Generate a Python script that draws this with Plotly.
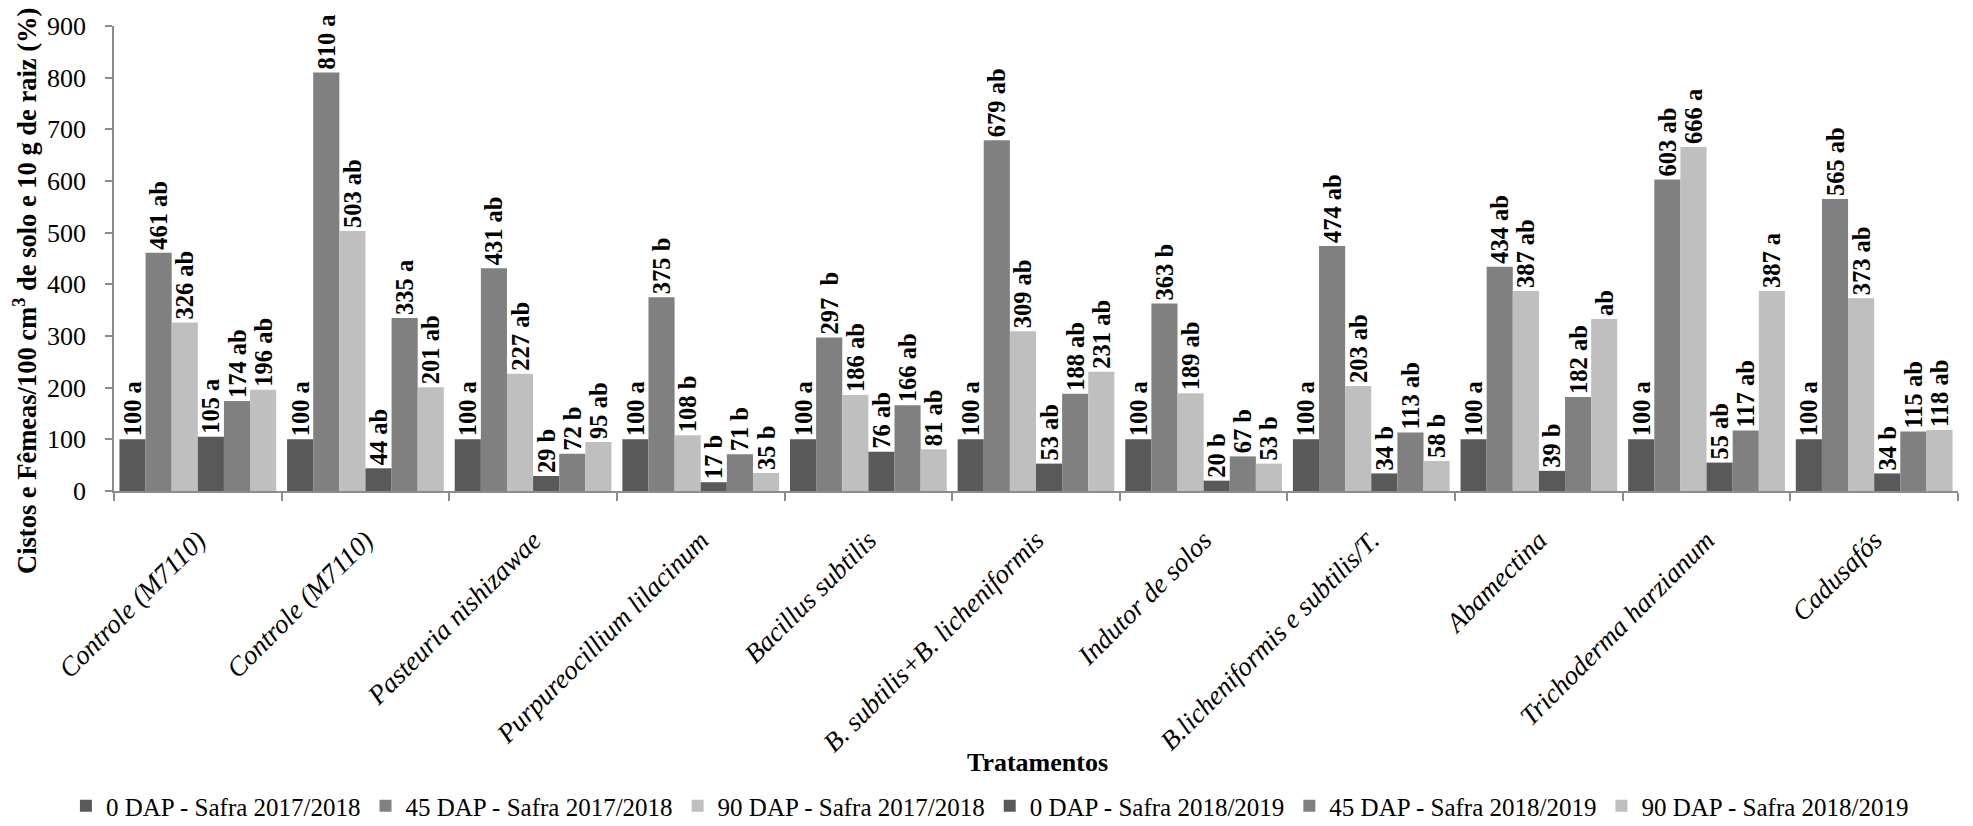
import plotly.graph_objects as go

# Treatments (two control rows share the same name, so bars sit on numeric slots)
treatments = [
    "Controle (M7110)",
    "Controle (M7110)",
    "Pasteuria nishizawae",
    "Purpureocillium lilacinum",
    "Bacillus subtilis",
    "B. subtilis+B. licheniformis",
    "Indutor de solos",
    "B.licheniformis e subtilis/T.",
    "Abamectina",
    "Trichoderma harzianum",
    "Cadusafós",
]

series_names = [
    "0 DAP - Safra 2017/2018",
    "45 DAP - Safra 2017/2018",
    "90 DAP - Safra 2017/2018",
    "0 DAP - Safra 2018/2019",
    "45 DAP - Safra 2018/2019",
    "90 DAP - Safra 2018/2019",
]

dap0_1718 = [100, 100, 100, 100, 100, 100, 100, 100, 100, 100, 100]
dap45_1718 = [461, 810, 431, 375, 297, 679, 363, 474, 434, 603, 565]
dap90_1718 = [326, 503, 227, 108, 186, 309, 189, 203, 387, 666, 373]
dap0_1819 = [105, 44, 29, 17, 76, 53, 20, 34, 39, 55, 34]
dap45_1819 = [174, 335, 72, 71, 166, 188, 67, 113, 182, 117, 115]
dap90_1819 = [196, 201, 95, 35, 81, 231, 53, 58, 333, 387, 118]

# Tukey letters for each bar
let0_1718 = ["a"] * 11
let45_1718 = ["ab", "a", "ab", "b", " b", "ab", "b", "ab", "ab", "ab", "ab"]
let90_1718 = ["ab", "ab", "ab", "b", "ab", "ab", "ab", "ab", "ab", "a", "ab"]
let0_1819 = ["a", "ab", "b", "b", "ab", "ab", "b", "b", "b", "ab", "b"]
let45_1819 = ["ab", "a", "b", "b", "ab", "ab", "b", "ab", "ab", "ab", "ab"]
let90_1819 = ["ab", "ab", "ab", "b", "ab", "ab", "b", "b", "ab", "a", "ab"]

# Bars whose label carries only the letter (no number printed)
letter_only = {5: [8]}

values = [dap0_1718, dap45_1718, dap90_1718, dap0_1819, dap45_1819, dap90_1819]
letters = [let0_1718, let45_1718, let90_1718, let0_1819, let45_1819, let90_1819]
colors = ["#595959", "#808080", "#bfbfbf", "#595959", "#808080", "#bfbfbf"]

FONT = "Liberation Serif"
W, H = 1973, 826
ML, MR, MT, MB = 114, 15, 26, 335
PW, PH = W - ML - MR, H - MT - MB


def py(pixel_y):
    """Paper y coordinate for a pixel row of the page."""
    return (MT + PH - pixel_y) / PH


def px(pixel_x):
    """Paper x coordinate for a pixel column of the page."""
    return (pixel_x - ML) / PW


x_pos = list(range(len(treatments)))

fig = go.Figure()
for s, (name, vals, lets, col) in enumerate(zip(series_names, values, letters, colors)):
    skip = letter_only.get(s, [])
    labels = [
        (l.strip() if i in skip else f"{v} {l}")
        for i, (v, l) in enumerate(zip(vals, lets))
    ]
    fig.add_trace(go.Bar(
        name=name,
        x=x_pos,
        y=vals,
        marker=dict(color=col, line=dict(width=0)),
        text=labels,
        textposition="outside",
        textangle=-90,
        constraintext="none",
        cliponaxis=False,
        textfont=dict(family=FONT, size=24.5, color="black", weight="bold"),
        hoverinfo="skip",
    ))

axis_gray = "#8c8c8c"

fig.update_layout(
    width=W,
    height=H,
    margin=dict(l=ML, r=MR, t=MT, b=MB, pad=0, autoexpand=False),
    paper_bgcolor="white",
    plot_bgcolor="white",
    barmode="group",
    bargap=0.065,
    bargroupgap=0,
    font=dict(family=FONT, color="black"),
    showlegend=True,
    legend=dict(
        orientation="h",
        x=0.475,
        xanchor="center",
        y=py(806),
        yanchor="middle",
        font=dict(family=FONT, size=25, color="black"),
        itemwidth=30,
        traceorder="normal",
        bgcolor="rgba(0,0,0,0)",
    ),
    xaxis=dict(
        range=[-0.5, len(treatments) - 0.5],
        tickmode="array",
        tickvals=x_pos,
        ticktext=treatments,
        tickangle=-45,
        ticks="",
        ticklabelstandoff=21,
        tickfont=dict(family=FONT, size=27, color="black", style="italic"),
        showline=True,
        linecolor=axis_gray,
        linewidth=1.5,
        showgrid=False,
        zeroline=False,
        automargin=False,
        minor=dict(tick0=-0.5, dtick=1, ticks="outside", ticklen=8,
                   tickcolor=axis_gray, tickwidth=1.5, showgrid=False),
        fixedrange=True,
    ),
    yaxis=dict(
        range=[0, 900],
        tick0=0,
        dtick=100,
        ticks="outside",
        ticklen=7,
        tickcolor=axis_gray,
        tickwidth=1.5,
        ticklabelstandoff=14,
        tickfont=dict(family=FONT, size=26, color="black"),
        showline=True,
        linecolor=axis_gray,
        linewidth=1.5,
        showgrid=False,
        zeroline=False,
        automargin=False,
        fixedrange=True,
    ),
    annotations=[
        dict(
            text="Cistos e Fêmeas/100 cm<sup>3</sup> de solo e 10 g de raiz (%)",
            xref="paper", yref="paper",
            x=px(25), y=py(291),
            xanchor="center", yanchor="middle",
            textangle=-90, showarrow=False,
            font=dict(family=FONT, size=26.5, color="black", weight="bold"),
        ),
        dict(
            text="Tratamentos",
            xref="paper", yref="paper",
            x=px(1037), y=py(762),
            xanchor="center", yanchor="middle",
            showarrow=False,
            font=dict(family=FONT, size=26, color="black", weight="bold"),
        ),
    ],
)

fig.write_html("out.html")
